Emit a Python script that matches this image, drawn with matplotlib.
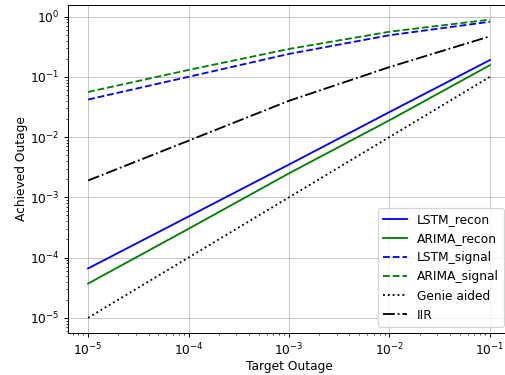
import numpy as np
import matplotlib.pyplot as plt

target = [1e-5, 1e-4, 1e-3, 1e-2, 1e-1]
lstm_recon = [6.6e-5, 4.8e-4, 3.5e-3, 2.6e-2, 0.19]
arima_recon = [3.7e-5, 3.0e-4, 2.5e-3, 1.9e-2, 0.156]
lstm_signal = [0.042, 0.10, 0.24, 0.49, 0.82]
arima_signal = [0.056, 0.13, 0.29, 0.56, 0.89]
genie = [1e-5, 1e-4, 1e-3, 1e-2, 1e-1]
iir = [1.9e-3, 8.7e-3, 0.040, 0.145, 0.47]

dpi = 88
fig = plt.figure(figsize=(505/dpi, 375/dpi), dpi=dpi)
ax = fig.add_axes([68/505, 42.3/375, 442/505, 328/375])

ax.loglog(target, lstm_recon, 'b-', label='LSTM_recon')
ax.loglog(target, arima_recon, 'g-', label='ARIMA_recon')
ax.loglog(target, lstm_signal, 'b--', label='LSTM_signal')
ax.loglog(target, arima_signal, 'g--', label='ARIMA_signal')
ax.loglog(target, genie, 'k:', label='Genie aided')
ax.loglog(target, iir, 'k-.', label='IIR')

ax.grid(True, which='major', color='#b0b0b0', alpha=0.7)
ax.set_xlabel('Target Outage', labelpad=1.5)
ax.set_ylabel('Achieved Outage', labelpad=1)
ax.legend(loc='lower right')

fig.savefig('out.png', dpi=dpi)
